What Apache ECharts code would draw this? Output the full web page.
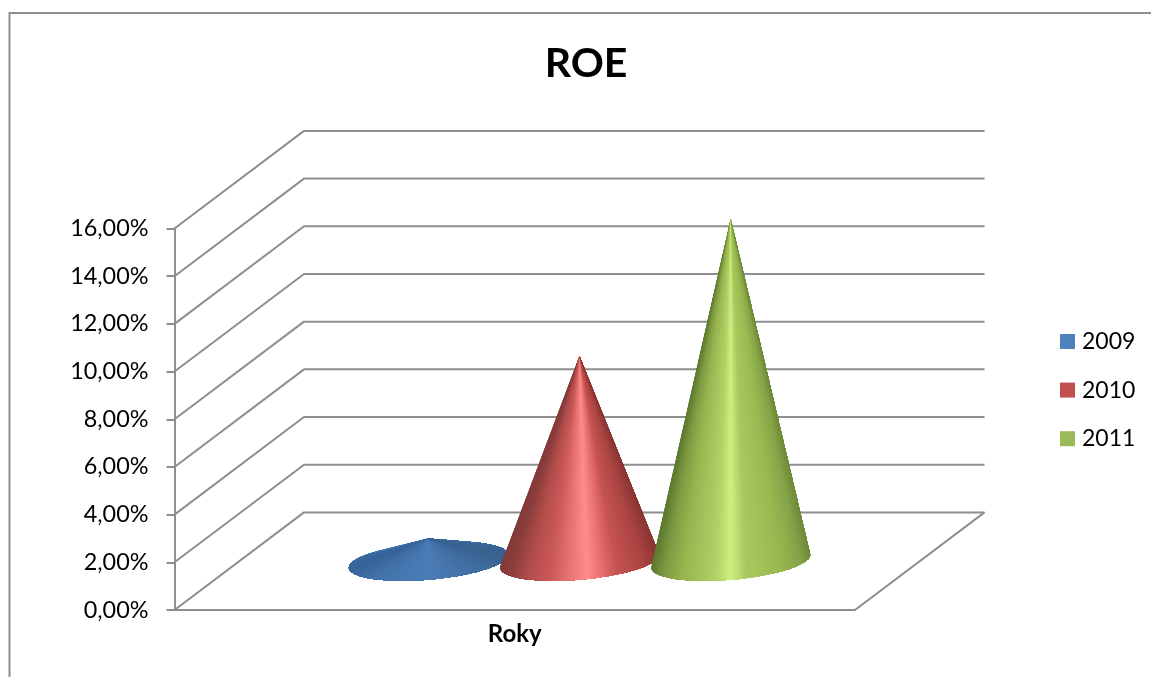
<!DOCTYPE html>
<html>
<head>
<meta charset="utf-8">
<title>ROE</title>
<script src="https://cdn.jsdelivr.net/npm/echarts@6/dist/echarts.min.js"></script>
<style>
  html, body { margin: 0; padding: 0; background: #fff; }
  #chart { width: 1151px; height: 677px; }
</style>
</head>
<body>
<div id="chart"></div>
<script>
// Chart content
const chartTitle = 'ROE';
const categories = ['Roky'];
const seriesNames = ['2009', '2010', '2011'];
const roe2009 = [0.95];
const roe2010 = [8.6];
const roe2011 = [14.34];
const valueTicks = [0, 2, 4, 6, 8, 10, 12, 14, 16];

// Solid colours for the legend keys
const legendColors = ['#4f81bd', '#c0504d', '#9bbb59'];

// Left-to-right shading of each cone's surface, as [position, colour] stops
const ramps = [
  [[0, '#38659a'], [0.1, '#3f6fa6'], [0.3, '#4777af'], [0.48, '#4b7db6'], [0.65, '#4776ad'], [0.85, '#406c9f'], [1, '#3a6392']],
  [[0, '#843b3a'], [0.05, '#8a3e3c'], [0.16, '#b04c4a'], [0.31, '#cc5a58'], [0.43, '#e87474'], [0.54, '#ff8c8c'], [0.63, '#e97070'], [0.73, '#c65451'], [0.91, '#a84341'], [1, '#8a3635']],
  [[0, '#5d7a30'], [0.08, '#7f9c42'], [0.19, '#98b550'], [0.29, '#a3c25b'], [0.41, '#b4d468'], [0.49, '#cff080'], [0.59, '#a9c95e'], [0.8, '#9ab951'], [0.93, '#86a448'], [1, '#6f8b3a']]
];

// 3D projection of the plot box
const depthX = 129.5;
const depthY = -97.6;
const baseDepthRatio = 0.5;
const gapUnits = 1.5;
const baseTilt = 0.262;
const lineColor = '#8e8e8e';
const uiFont = 'Lato, "Open Sans", sans-serif';

function hexToRgb(h) {
  return [1, 3, 5].map(i => parseInt(h.slice(i, i + 2), 16));
}

function rampColor(ramp, u) {
  const x = Math.max(0, Math.min(1, u));
  let i = 0;
  while (i < ramp.length - 2 && x > ramp[i + 1][0]) i++;
  const a = hexToRgb(ramp[i][1]);
  const b = hexToRgb(ramp[i + 1][1]);
  const f = (x - ramp[i][0]) / (ramp[i + 1][0] - ramp[i][0]);
  return 'rgb(' + a.map((v, k) => Math.round(v + (b[k] - v) * f)).join(',') + ')';
}

// Back wall, side wall and floor lines, one row per value tick
function renderWall(params, api) {
  const rect = params.coordSys;
  const tick = api.value(1);
  const y = api.coord([0, tick])[1];
  const x0 = rect.x;
  const x1 = rect.x + rect.width;
  const wall = {
    type: 'polyline',
    silent: true,
    shape: { points: [[x0, y], [x0 + depthX, y + depthY], [x1 + depthX, y + depthY]] },
    style: { fill: null, stroke: lineColor, lineWidth: 2, lineJoin: 'round' }
  };
  if (tick !== 0) return wall;
  return {
    type: 'group',
    children: [wall, {
      type: 'polyline',
      silent: true,
      shape: { points: [[x1, y], [x1 + depthX, y + depthY]] },
      style: { fill: null, stroke: lineColor, lineWidth: 2 }
    }]
  };
}

// One cone per series: facets fan out from the apex to the base rim and are
// painted left to right, each one covering everything still to its right
function makeConeRenderer(seriesIndex) {
  return function (params, api) {
    const bandWidth = api.size([1, 0])[0];
    const unit = bandWidth / (seriesNames.length + gapUnits);
    const centre = api.coord([api.value(0), 0]);
    const top = api.coord([api.value(0), api.value(1)]);
    const offset = (seriesIndex - (seriesNames.length - 1) / 2) * unit;
    const cx = centre[0] + offset + depthX * baseDepthRatio;
    const cy = centre[1] + depthY * baseDepthRatio;
    const apex = [cx, top[1] + depthY * baseDepthRatio];
    const radius = unit * 0.496;
    const rimDepth = radius * baseTilt;
    const steps = 360;
    const rim = [];
    for (let k = 0; k < steps; k++) {
      const t = -1.5 * Math.PI + (2 * Math.PI * k) / steps;
      rim.push([
        cx + radius * Math.cos(t) + (depthX / Math.abs(depthY)) * rimDepth * Math.sin(t),
        cy - rimDepth * Math.sin(t)
      ]);
    }
    let left = 0;
    let right = 0;
    let angleLeft = Infinity;
    let angleRight = -Infinity;
    rim.forEach((p, k) => {
      const a = Math.atan2(p[0] - apex[0], p[1] - apex[1]);
      if (a < angleLeft) { angleLeft = a; left = k; }
      if (a > angleRight) { angleRight = a; right = k; }
    });
    const arc = rim.slice(left, right + 1);
    const xs = arc.map(p => p[0]);
    const xMin = Math.min.apply(null, xs);
    const xMax = Math.max.apply(null, xs);
    const children = [];
    for (let k = 0; k < arc.length - 1; k += 2) {
      const color = rampColor(ramps[seriesIndex], (arc[k][0] - xMin) / (xMax - xMin));
      children.push({
        type: 'polygon',
        silent: true,
        shape: { points: [apex].concat(arc.slice(k)) },
        style: { fill: color }
      });
    }
    return { type: 'group', children: children };
  };
}

function pointsFor(values) {
  return values.map((v, i) => [i, v]);
}

const coneValues = [roe2009, roe2010, roe2011];

const chart = echarts.init(document.getElementById('chart'), null, { renderer: 'canvas' });
chart.setOption({
  animation: false,
  backgroundColor: '#ffffff',
  title: {
    text: chartTitle,
    left: 581,
    top: 38,
    textAlign: 'center',
    textStyle: { fontFamily: uiFont, fontSize: 41, fontWeight: 'bold', color: '#000' }
  },
  legend: {
    data: seriesNames,
    orient: 'vertical',
    left: 1055,
    top: 325,
    itemWidth: 15,
    itemHeight: 15,
    itemGap: 25.6,
    icon: 'rect',
    selectedMode: false,
    textStyle: { fontFamily: uiFont, fontSize: 23, color: '#000', padding: [0, 0, 0, 2] }
  },
  grid: { left: 174.5, top: 228.5, width: 680.5, height: 381.5, containLabel: false },
  xAxis: {
    type: 'category',
    data: categories,
    axisTick: { show: false },
    axisLine: { lineStyle: { color: lineColor, width: 2 } },
    axisLabel: { fontFamily: uiFont, fontSize: 24, fontWeight: 'bold', color: '#000', margin: 12 }
  },
  yAxis: {
    type: 'value',
    min: valueTicks[0],
    max: valueTicks[valueTicks.length - 1],
    interval: 2,
    splitLine: { show: false },
    axisLine: { show: true, lineStyle: { color: lineColor, width: 2 } },
    axisTick: { show: true, length: 8, lineStyle: { color: lineColor, width: 2 } },
    axisLabel: {
      fontFamily: uiFont,
      fontSize: 23.4,
      color: '#000',
      margin: 26,
      padding: [5, 0, 0, 0],
      formatter: v => v.toFixed(2).replace('.', ',') + '%'
    }
  },
  series: [
    {
      type: 'custom',
      name: 'walls',
      silent: true,
      z: 1,
      renderItem: renderWall,
      encode: { x: 0, y: 1 },
      data: valueTicks.map(t => [0, t])
    }
  ].concat(seriesNames.map((name, i) => ({
    type: 'custom',
    name: name,
    z: 2 + i,
    itemStyle: { color: legendColors[i] },
    renderItem: makeConeRenderer(i),
    encode: { x: 0, y: 1 },
    data: pointsFor(coneValues[i])
  }))),
  graphic: [{
    type: 'polyline',
    silent: true,
    z: 0,
    shape: { points: [[9.5, 680], [9.5, 13], [1154, 13]] },
    style: { fill: null, stroke: lineColor, lineWidth: 2 }
  }]
});
</script>
</body>
</html>
